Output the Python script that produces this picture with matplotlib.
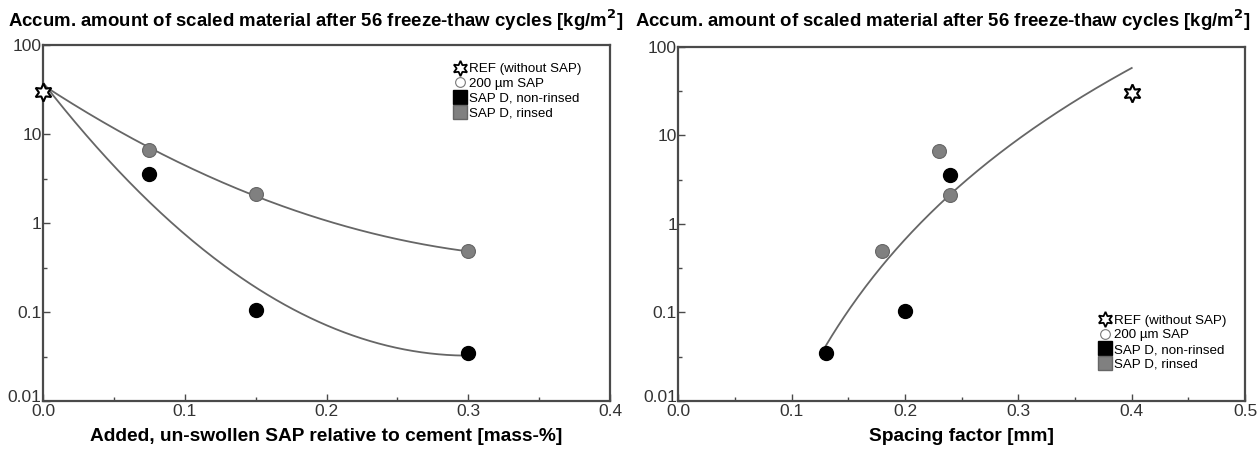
import numpy as np
import matplotlib
matplotlib.use('Agg')
import matplotlib.pyplot as plt
import matplotlib.transforms as mtransforms
from matplotlib.lines import Line2D
from matplotlib.ticker import FixedLocator, FixedFormatter, MultipleLocator, FormatStrFormatter

plt.rcParams['font.family'] = ['Liberation Sans', 'DejaVu Sans']

# scaled material after 56 cycles [kg/m2]
scaled_rinsed = [6.6, 2.1, 0.49]
scaled_nonrinsed = [3.6, 0.105, 0.035]
scaled_ref = [30]

# left: added SAP [mass-%]
sap_rinsed = [0.075, 0.15, 0.3]
sap_nonrinsed = [0.075, 0.15, 0.3]
sap_ref = [0.0]

# right: spacing factor [mm]
spacing_rinsed = [0.23, 0.24, 0.18]
spacing_nonrinsed = [0.24, 0.20, 0.13]
spacing_ref = [0.40]

# fit curves (log10 y as polynomial in x, or in log10 x)
fit_rinsed = [13.9, -10.4, 1.55]
fit_nonrinsed = [34.1, -20.46, 1.579]
fit_rinsed_range = [0.0, 0.3]
fit_nonrinsed_range = [0.0, 0.3]
fit_spacing = [6.43, 4.32]
fit_spacing_range = [0.13, 0.40]

y_ticks = [0.01, 0.1, 1, 10, 100]
y_ticklabels = ['0.01', '0.1', '1', '10', '100']
y_minor = [0.0316, 0.316, 3.16, 31.6]

title = 'Accum. amount of scaled material after 56 freeze-thaw cycles [kg/m$^\\mathbf{2}$]'

spine_col = '#4a4a4a'
grey_pt = '#808080'
line_col = '#666666'
star = (6, 1, 0)

fig = plt.figure(figsize=(12.58, 4.5), dpi=100)
ax1 = fig.add_axes([0.0342, 0.1089, 0.4507, 0.791])
ax2 = fig.add_axes([0.5393, 0.1089, 0.4504, 0.787])


def style(ax, xmax):
    ax.set_yscale('log')
    ax.set_ylim(0.01, 100)
    ax.set_xlim(0, xmax)
    ax.yaxis.set_major_locator(FixedLocator(y_ticks))
    ax.yaxis.set_major_formatter(FixedFormatter(y_ticklabels))
    ax.yaxis.set_minor_locator(FixedLocator(y_minor))
    ax.yaxis.set_minor_formatter(FixedFormatter([]))
    ax.xaxis.set_major_locator(MultipleLocator(0.1))
    ax.xaxis.set_minor_locator(MultipleLocator(0.05))
    ax.xaxis.set_major_formatter(FormatStrFormatter('%.1f'))
    ax.tick_params(which='both', direction='in', color=spine_col, labelsize=12.5, labelcolor='#333333')
    ax.tick_params(which='major', length=5, width=1)
    ax.tick_params(which='minor', length=3, width=1)
    ax.tick_params(axis='x', pad=2)
    ax.tick_params(axis='y', pad=1)
    for s in ax.spines.values():
        s.set_color(spine_col)
        s.set_linewidth(1.6)
    # lowest y label sits a little above the corner, as in the original
    lowest = ax.yaxis.get_major_ticks()[0].label1
    lowest.set_transform(lowest.get_transform() +
                         mtransforms.ScaledTranslation(0, 5 / 100, fig.dpi_scale_trans))


def legend(ax, anchor):
    handles = [
        Line2D([], [], ls='none', marker=star, ms=11, mfc='white', mec='black', mew=1.3),
        Line2D([], [], ls='none', marker='o', ms=7, mfc='white', mec='#777777', mew=0.8),
        Line2D([], [], ls='none', marker='s', ms=10, mfc='black', mec='black'),
        Line2D([], [], ls='none', marker='s', ms=10, mfc=grey_pt, mec='#666666'),
    ]
    labels = ['REF (without SAP)', '200 \u00b5m SAP', 'SAP D, non-rinsed', 'SAP D, rinsed']
    ax.legend(handles, labels, loc='upper left', bbox_to_anchor=anchor, frameon=False,
              fontsize=9.6, handlelength=0.9, handletextpad=0.2, labelspacing=0.18,
              borderpad=0, borderaxespad=0)


# left panel
style(ax1, 0.4)
xs = np.linspace(fit_rinsed_range[0], fit_rinsed_range[1], 200)
ax1.plot(xs, 10 ** np.polyval(fit_rinsed, xs), color=line_col, lw=1.3)
xs = np.linspace(fit_nonrinsed_range[0], fit_nonrinsed_range[1], 200)
ax1.plot(xs, 10 ** np.polyval(fit_nonrinsed, xs), color=line_col, lw=1.3)
ax1.plot(sap_rinsed, scaled_rinsed, 'o', ms=10, mfc=grey_pt, mec='#666666', mew=0.8)
ax1.plot(sap_nonrinsed, scaled_nonrinsed, 'o', ms=10, mfc='black', mec='black')
ax1.plot(sap_ref, scaled_ref, ls='none', marker=star, ms=13, mfc='white', mec='black',
         mew=1.5, clip_on=False, zorder=5)
ax1.set_xlabel('Added, un-swollen SAP relative to cement [mass-%]', fontsize=13.8,
               fontweight='bold', labelpad=7)
legend(ax1, (0.725, 0.95))

# right panel
style(ax2, 0.5)
xs = np.linspace(fit_spacing_range[0], fit_spacing_range[1], 200)
ax2.plot(xs, 10 ** np.polyval(fit_spacing, np.log10(xs)), color=line_col, lw=1.3)
ax2.plot(spacing_rinsed, scaled_rinsed, 'o', ms=10, mfc=grey_pt, mec='#666666', mew=0.8)
ax2.plot(spacing_nonrinsed, scaled_nonrinsed, 'o', ms=10, mfc='black', mec='black')
ax2.plot(spacing_ref, scaled_ref, ls='none', marker=star, ms=13, mfc='white', mec='black',
         mew=1.5, zorder=5)
ax2.set_xlabel('Spacing factor [mm]', fontsize=13.8, fontweight='bold', labelpad=7)
legend(ax2, (0.742, 0.245))

fig.text(0.006, 0.955, title, fontsize=13.4, fontweight='bold', va='center', ha='left')
fig.text(0.505, 0.955, title, fontsize=13.4, fontweight='bold', va='center', ha='left')

fig.savefig('out.png', dpi=100)
